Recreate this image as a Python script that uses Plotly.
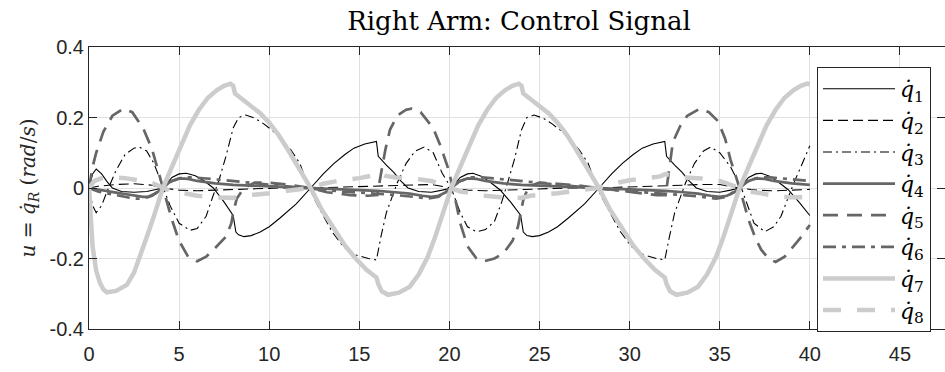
import plotly.graph_objects as go

# ---------------- data ----------------
t1 = [0, 0.2, 0.4, 0.7, 1.0, 1.3, 1.8, 2.5, 3.2, 3.7, 4.1, 4.6, 5.0, 5.4, 5.9, 6.4, 6.9, 7.5, 8.0, 8.15, 8.3, 8.6, 9.0, 9.5, 10.0, 10.6, 11.5, 12.3, 13.0, 13.6, 14.2, 14.7, 15.3, 15.95, 16.05, 16.5, 16.9, 17.3, 17.7, 18.3, 19.0, 19.6, 20.1, 20.6, 21.0, 21.3, 21.8, 22.3, 22.8, 23.4, 23.95, 24.1, 24.3, 24.6, 25.0, 25.5, 26.0, 26.6, 27.5, 28.3, 29.0, 29.6, 30.2, 30.7, 31.3, 31.95, 32.05, 32.5, 32.9, 33.3, 33.7, 34.3, 35.0, 35.6, 36.1, 36.6, 37.0, 37.3, 37.8, 38.3, 38.8, 39.4, 40.0]
q1 = [0, 0.04, 0.054, 0.04, 0.018, 0.0, -0.01, -0.012, -0.01, -0.005, 0, 0.03, 0.04, 0.042, 0.035, 0.02, 0, -0.04, -0.078, -0.125, -0.133, -0.138, -0.135, -0.125, -0.11, -0.085, -0.045, 0, 0.04, 0.07, 0.095, 0.113, 0.125, 0.132, 0.09, 0.065, 0.045, 0.02, 0, -0.01, -0.012, -0.006, 0, 0.03, 0.04, 0.042, 0.033, 0.015, -0.005, -0.04, -0.077, -0.125, -0.135, -0.138, -0.135, -0.125, -0.11, -0.085, -0.045, 0, 0.04, 0.07, 0.095, 0.113, 0.125, 0.132, 0.09, 0.065, 0.045, 0.02, 0, -0.01, -0.012, -0.006, 0, 0.03, 0.04, 0.042, 0.033, 0.015, -0.005, -0.04, -0.078]

t2 = [0, 0.5, 1.5, 2.5, 3.5, 4.1, 5.0, 6.0, 7.0, 8.0, 9.0, 10.5, 12.3, 13.5, 15.0, 16.0, 17.0, 18.0, 19.0, 20.1, 21.0, 22.0, 23.0, 24.0, 25.0, 26.5, 28.2, 29.5, 31.0, 32.0, 33.0, 34.0, 35.0, 36.1, 37.0, 38.0, 39.0, 40.0]
q2 = [0, 0.005, 0.01, 0.012, 0.008, 0, -0.006, -0.008, -0.006, -0.004, -0.002, 0.0, 0, 0.002, 0.003, 0.005, 0.008, 0.01, 0.01, 0, -0.006, -0.008, -0.006, -0.004, -0.002, 0.0, 0, 0.002, 0.003, 0.005, 0.008, 0.01, 0.01, 0, -0.006, -0.008, -0.006, -0.004]

t3 = [0, 0.2, 0.4, 0.7, 1.0, 1.5, 2.0, 2.5, 2.8, 3.2, 3.6, 4.1, 4.5, 5.0, 5.6, 6.0, 6.5, 6.9, 7.2, 7.6, 8.0, 8.3, 8.7, 9.2, 9.7, 10.2, 10.7, 11.2, 11.7, 12.2, 12.8, 13.5, 14.1, 14.8, 15.5, 15.95, 16.2, 16.5, 17.1, 17.6, 18.1, 18.6, 19.1, 19.6, 20.1, 20.6, 21.0, 21.5, 22.0, 22.5, 22.9, 23.2, 23.6, 24.0, 24.3, 24.7, 25.2, 25.7, 26.2, 26.7, 27.2, 27.7, 28.2, 28.8, 29.5, 30.1, 30.8, 31.5, 31.95, 32.2, 32.5, 33.1, 33.6, 34.1, 34.5, 35.0, 35.6, 36.2, 36.6, 36.9, 37.5, 38.0, 38.4, 39.1, 39.5, 40.0]
q3 = [0, -0.05, -0.07, -0.05, -0.01, 0.05, 0.095, 0.113, 0.116, 0.105, 0.07, 0.0, -0.05, -0.1, -0.12, -0.115, -0.08, -0.02, 0.02, 0.09, 0.17, 0.2, 0.207, 0.198, 0.182, 0.162, 0.138, 0.108, 0.07, 0.0, -0.06, -0.125, -0.166, -0.19, -0.2, -0.204, -0.138, -0.07, 0.014, 0.07, 0.105, 0.116, 0.1, 0.042, 0.0, -0.07, -0.11, -0.124, -0.118, -0.095, -0.04, 0.01, 0.08, 0.165, 0.2, 0.207, 0.198, 0.182, 0.162, 0.138, 0.108, 0.07, 0.0, -0.06, -0.125, -0.166, -0.19, -0.2, -0.204, -0.14, -0.07, 0.014, 0.07, 0.105, 0.116, 0.1, 0.06, 0.0, -0.06, -0.1, -0.124, -0.11, -0.08, 0.013, 0.06, 0.12]

t4 = [0, 0.5, 1.0, 1.5, 2.0, 2.5, 3.0, 3.3, 3.7, 4.1, 4.5, 5.0, 5.5, 6.0, 7.0, 8.0, 9.0, 10.0, 11.0, 12.3, 13.0, 14.0, 15.0, 16.0, 17.0, 17.8, 18.5, 19.0, 19.4, 19.8, 20.1, 20.5, 21.0, 21.5, 22.0, 23.0, 24.0, 25.0, 26.0, 27.0, 28.2, 29.0, 30.0, 31.0, 32.0, 33.0, 33.8, 34.5, 35.0, 35.4, 35.8, 36.1, 36.5, 37.0, 37.5, 38.0, 39.0, 40.0]
q4 = [0, -0.005, -0.01, -0.013, -0.017, -0.022, -0.025, -0.025, -0.015, 0, 0.018, 0.027, 0.026, 0.02, 0.013, 0.009, 0.007, 0.005, 0.003, 0, -0.002, -0.004, -0.006, -0.008, -0.012, -0.016, -0.022, -0.025, -0.022, -0.012, 0, 0.018, 0.027, 0.026, 0.02, 0.013, 0.009, 0.007, 0.005, 0.003, 0, -0.002, -0.004, -0.006, -0.008, -0.012, -0.016, -0.022, -0.025, -0.022, -0.012, 0, 0.018, 0.027, 0.026, 0.02, 0.013, 0.009]

t5 = [0, 0.2, 0.4, 0.8, 1.3, 1.9, 2.4, 3.0, 3.5, 4.1, 4.6, 5.0, 5.5, 6.0, 6.5, 7.0, 7.6, 7.9, 8.0, 8.2, 8.6, 9.2, 10.0, 11.0, 12.3, 13.2, 14.5, 15.5, 16.0, 16.2, 16.45, 16.7, 17.1, 17.6, 17.9, 18.4, 19.1, 19.5, 19.9, 20.2, 20.6, 21.0, 21.5, 21.9, 22.5, 23.0, 23.5, 23.8, 24.1, 24.4, 25.0, 26.0, 27.0, 28.2, 29.5, 30.5, 31.5, 32.0, 32.2, 32.4, 32.8, 33.2, 33.9, 34.4, 34.9, 35.3, 35.6, 36.1, 36.6, 37.0, 37.3, 37.7, 38.1, 38.6, 39.1, 39.5, 40.0]
q5 = [0, 0.06, 0.1, 0.16, 0.205, 0.225, 0.215, 0.17, 0.11, 0.0, -0.09, -0.15, -0.195, -0.208, -0.195, -0.17, -0.138, -0.1, -0.07, -0.03, 0.0, 0.015, 0.015, 0.01, 0, -0.012, -0.02, -0.022, -0.02, 0.04, 0.11, 0.165, 0.205, 0.222, 0.225, 0.215, 0.17, 0.12, 0.06, 0, -0.1, -0.165, -0.2, -0.208, -0.2, -0.185, -0.15, -0.11, -0.034, 0.005, 0.015, 0.012, 0.008, 0, -0.008, -0.015, -0.02, -0.02, 0.06, 0.13, 0.175, 0.205, 0.225, 0.215, 0.19, 0.14, 0.08, 0.0, -0.09, -0.145, -0.175, -0.2, -0.21, -0.195, -0.165, -0.14, -0.105]

t6 = [0, 0.5, 1.0, 1.5, 2.0, 2.5, 3.0, 3.5, 4.1, 4.6, 5.2, 5.8, 6.5, 7.5, 8.5, 9.5, 10.5, 11.5, 12.3, 13.0, 14.0, 15.0, 16.0, 17.0, 18.0, 18.8, 19.4, 20.1, 20.6, 21.2, 21.8, 22.5, 23.5, 24.5, 25.5, 26.5, 27.5, 28.2, 29.0, 30.0, 31.0, 32.0, 33.0, 34.0, 34.8, 35.4, 36.1, 36.6, 37.2, 37.8, 38.5, 39.5, 40.0]
q6 = [0, -0.01, -0.015, -0.02, -0.025, -0.03, -0.03, -0.022, 0, 0.02, 0.03, 0.03, 0.027, 0.022, 0.018, 0.013, 0.008, 0.004, 0, -0.005, -0.01, -0.013, -0.016, -0.02, -0.025, -0.03, -0.025, 0, 0.02, 0.03, 0.03, 0.027, 0.022, 0.018, 0.013, 0.008, 0.004, 0, -0.005, -0.01, -0.013, -0.016, -0.02, -0.025, -0.03, -0.025, 0, 0.02, 0.03, 0.03, 0.027, 0.022, 0.02]

t7 = [0, 0.1, 0.2, 0.4, 0.6, 0.8, 1.0, 1.5, 2.1, 2.5, 2.8, 3.2, 3.6, 4.1, 4.6, 5.1, 5.6, 6.1, 6.6, 7.1, 7.5, 7.85, 8.0, 8.1, 8.4, 9.0, 9.5, 10.0, 10.5, 11.0, 11.5, 12.0, 12.3, 12.9, 13.6, 14.2, 14.8, 15.4, 15.95, 16.05, 16.25, 16.6, 17.2, 17.8, 18.3, 18.8, 19.2, 19.6, 20.1, 20.6, 21.1, 21.6, 22.1, 22.6, 23.1, 23.5, 23.85, 24.0, 24.1, 24.4, 25.0, 25.5, 26.0, 26.5, 27.0, 27.5, 28.0, 28.3, 28.9, 29.6, 30.2, 30.8, 31.4, 31.95, 32.05, 32.25, 32.6, 33.2, 33.8, 34.3, 34.8, 35.2, 35.6, 36.1, 36.6, 37.1, 37.6, 38.1, 38.6, 39.1, 39.5, 39.85, 40.0]
q7 = [0, -0.09, -0.166, -0.235, -0.268, -0.288, -0.296, -0.292, -0.275, -0.24, -0.2, -0.14, -0.08, 0, 0.06, 0.12, 0.178, 0.222, 0.256, 0.278, 0.29, 0.296, 0.29, 0.268, 0.256, 0.236, 0.212, 0.185, 0.152, 0.112, 0.07, 0.025, 0, -0.06, -0.118, -0.163, -0.2, -0.232, -0.254, -0.272, -0.293, -0.303, -0.297, -0.28, -0.245, -0.195, -0.14, -0.08, 0, 0.06, 0.12, 0.178, 0.222, 0.256, 0.278, 0.29, 0.296, 0.29, 0.268, 0.256, 0.236, 0.212, 0.185, 0.152, 0.112, 0.07, 0.025, 0, -0.06, -0.118, -0.163, -0.2, -0.232, -0.254, -0.272, -0.293, -0.303, -0.297, -0.28, -0.245, -0.195, -0.14, -0.08, 0, 0.06, 0.12, 0.178, 0.222, 0.256, 0.278, 0.29, 0.296, 0.294]

t8 = [0, 0.3, 0.7, 1.2, 2.0, 2.7, 3.3, 3.7, 4.1, 4.6, 5.3, 6.0, 6.8, 7.5, 8.0, 8.5, 9.2, 10.0, 11.0, 12.3, 13.0, 14.0, 15.0, 15.7, 16.0, 16.4, 17.0, 18.0, 19.0, 19.6, 20.1, 20.6, 21.3, 22.0, 22.8, 23.5, 24.0, 24.5, 25.2, 26.0, 27.0, 28.2, 29.0, 30.0, 31.0, 31.7, 32.0, 32.4, 33.0, 34.0, 35.0, 35.6, 36.1, 36.6, 37.3, 38.0, 38.8, 39.5, 40.0]
q8 = [0, 0.02, 0.028, 0.03, 0.028, 0.024, 0.018, 0.01, 0, -0.01, -0.015, -0.022, -0.026, -0.027, -0.028, -0.022, -0.02, -0.015, -0.008, 0, 0.012, 0.022, 0.028, 0.035, 0.045, 0.035, 0.03, 0.027, 0.02, 0.01, 0, -0.01, -0.015, -0.022, -0.026, -0.027, -0.028, -0.022, -0.02, -0.015, -0.008, 0, 0.012, 0.022, 0.028, 0.033, 0.04, 0.033, 0.03, 0.027, 0.02, 0.01, 0, -0.01, -0.015, -0.022, -0.026, -0.027, -0.026]

series_t = [t1, t2, t3, t4, t5, t6, t7, t8]
series_v = [q1, q2, q3, q4, q5, q6, q7, q8]
labels = ["1", "2", "3", "4", "5", "6", "7", "8"]

x_ticks = [0, 5, 10, 15, 20, 25, 30, 35, 40, 45]
y_ticks = [-0.4, -0.2, 0, 0.2, 0.4]
y_ticktext = ["-0.4", "-0.2", "0", "0.2", "0.4"]

# ---------------- styles ----------------
styles = [
    dict(color="#000000", width=1.1, dash="solid"),
    dict(color="#000000", width=1.1, dash="10px,5px"),
    dict(color="#000000", width=1.1, dash="9px,4px,2px,4px"),
    dict(color="#666666", width=2.7, dash="solid"),
    dict(color="#666666", width=2.7, dash="15px,9px"),
    dict(color="#666666", width=2.7, dash="13px,6px,4px,6px"),
    dict(color="#cccccc", width=4.5, dash="solid"),
    dict(color="#cccccc", width=4.5, dash="18px,16px"),
]

fig = go.Figure()
for i in range(8):
    fig.add_trace(go.Scatter(
        x=series_t[i], y=series_v[i], mode="lines",
        line=dict(**styles[i]),
        name="<i>q\u0307</i><sub>" + labels[i] + "</sub>",
        legendgroup="g" + labels[i],
    ))

tick_font = dict(family="Liberation Sans, Arial, sans-serif", size=20, color="#262626")
axis_common = dict(
    showline=True, linecolor="#262626", linewidth=1, mirror="ticks",
    ticks="inside", ticklen=8, tickcolor="#262626", tickwidth=1,
    showgrid=True, gridcolor="#e0e0e0", gridwidth=1,
    zeroline=False, tickfont=tick_font,
)

fig.update_layout(
    width=945, height=372,
    margin=dict(l=89, r=0, t=47, b=43),
    paper_bgcolor="white", plot_bgcolor="white",
    title=dict(text="Right Arm: Control Signal", x=519 / 945, xref="container", xanchor="center",
               y=1 - 21 / 372, yref="container", yanchor="middle",
               font=dict(family="DejaVu Serif, serif", size=26, color="#000000")),
    xaxis=dict(range=[0, 47.5], tickvals=x_ticks, ticklabelstandoff=7, **axis_common),
    yaxis=dict(range=[-0.4, 0.4], tickvals=y_ticks, ticktext=y_ticktext,
               title=dict(text="<i>u</i> = <i>q\u0307</i><sub><i>R</i></sub> (<i>rad</i>/<i>s</i>)",
                          font=dict(family="DejaVu Serif, serif", size=20, color="#262626"),
                          standoff=8),
               **axis_common),
    showlegend=True,
    legend=dict(x=(817 - 89) / 856, y=(329 - 67) / 282, xanchor="left", yanchor="top",
                bgcolor="white", bordercolor="#262626", borderwidth=1,
                font=dict(family="DejaVu Serif, serif", size=22, color="#000000"),
                itemwidth=72, tracegroupgap=4, traceorder="normal"),
)

fig.write_html("out.html")
